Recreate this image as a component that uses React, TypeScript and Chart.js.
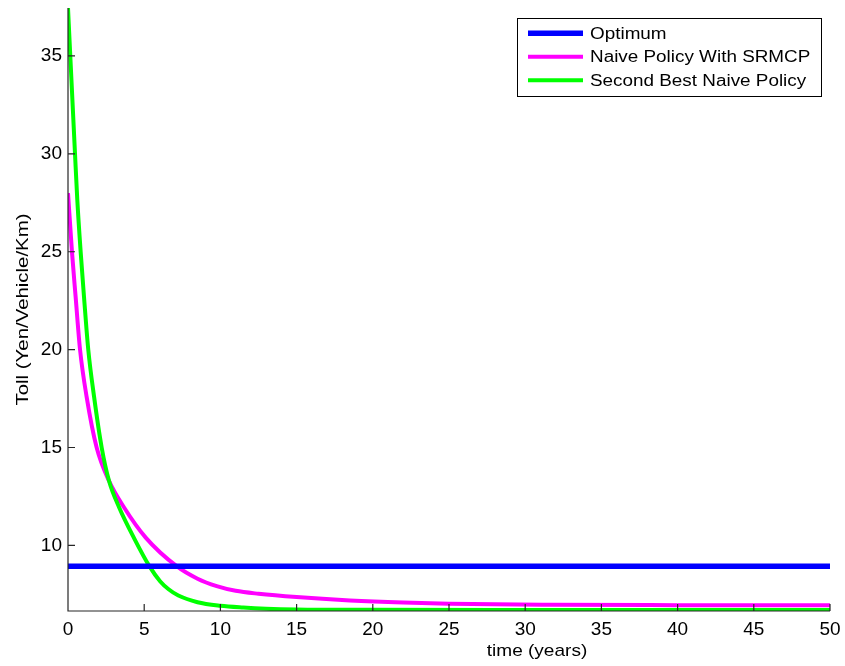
import { useEffect, useRef } from "react";
import { Chart, registerables } from "chart.js";

Chart.register(...registerables);

// ---- data ----
const X_MIN = 0;
const X_MAX = 50;
const Y_MIN = 6.65;
const Y_MAX = 37.45;
const X_TICKS = [0, 5, 10, 15, 20, 25, 30, 35, 40, 45, 50];
const Y_TICKS = [10, 15, 20, 25, 30, 35];

const OPTIMUM_T = [0, 50];
const OPTIMUM_V = [8.94, 8.94];

const NAIVE_T = [0, 0.26, 0.5, 0.79, 1.22, 1.88, 2.69, 3.67, 5.1, 7.13, 8.5, 9.76, 11, 12.5, 15, 18.5, 22, 25, 31.6, 40, 50];
const NAIVE_V = [28.0, 25.0, 22.7, 20.0, 17.6, 15.0, 13.3, 11.95, 10.4, 8.94, 8.3, 7.92, 7.68, 7.53, 7.36, 7.19, 7.08, 7.02, 6.97, 6.95, 6.94];

const SECOND_T = [0, 0.15, 0.46, 0.61, 0.83, 1.05, 1.33, 1.71, 2.21, 2.69, 3.35, 4.35, 5.34, 6.04, 6.6, 7.24, 8.5, 10, 11.5, 13, 15, 20, 30, 40, 50];
const SECOND_V = [37.45, 35.0, 30.0, 27.65, 25.0, 22.7, 20.0, 17.6, 15.0, 13.3, 11.95, 10.35, 8.94, 8.17, 7.76, 7.44, 7.1, 6.92, 6.83, 6.77, 6.73, 6.71, 6.7, 6.7, 6.7];

const LABELS = ["Optimum", "Naive Policy With SRMCP", "Second Best Naive Policy"];
const COLORS = ["#0000ff", "#ff00ff", "#00ff00"];
const WIDTHS = [5.5, 4, 4];
const X_TITLE = "time (years)";
const Y_TITLE = "Toll (Yen/Vehicle/Km)";
const FONT = "'Liberation Sans', Arial, sans-serif";

const toPts = (t: number[], v: number[]) => t.map((x, i) => ({ x, y: v[i] }));

const noPad = (s: any) => {
  s.paddingLeft = 0;
  s.paddingRight = 0;
  s.paddingTop = 0;
  s.paddingBottom = 0;
};

const matlabPlugin = {
  id: "matlabLook",
  afterDatasetsDraw(chart: any) {
    const { ctx, chartArea: a, scales } = chart;
    const xs = scales.x;
    const ys = scales.y;
    ctx.save();
    ctx.strokeStyle = "#262626";
    ctx.lineWidth = 1.2;
    ctx.beginPath();
    ctx.moveTo(a.left, a.top);
    ctx.lineTo(a.left, a.bottom);
    ctx.lineTo(a.right, a.bottom);
    xs.ticks.forEach((t: any) => {
      const px = xs.getPixelForValue(t.value);
      ctx.moveTo(px, a.bottom);
      ctx.lineTo(px, a.bottom - 7);
    });
    ys.ticks.forEach((t: any) => {
      const py = ys.getPixelForValue(t.value);
      ctx.moveTo(a.left, py);
      ctx.lineTo(a.left + 7, py);
    });
    ctx.stroke();
    ctx.restore();
  },
  afterDraw(chart: any) {
    const { ctx, chartArea: a } = chart;
    ctx.save();
    ctx.fillStyle = "#000";
    // x title
    ctx.font = `17px ${FONT}`;
    ctx.textAlign = "center";
    ctx.textBaseline = "middle";
    ctx.save();
    ctx.translate(a.left + 469, a.bottom + 40);
    ctx.scale(1.12, 1);
    ctx.fillText(X_TITLE, 0, 0);
    ctx.restore();
    // y title
    ctx.save();
    ctx.translate(23, (a.top + a.bottom) / 2);
    ctx.rotate(-Math.PI / 2);
    ctx.scale(1.2, 1);
    ctx.fillText(Y_TITLE, 0, 0);
    ctx.restore();

    // legend
    const bw = 304;
    const bh = 78;
    const bx = a.right - 313;
    const by = a.top + 10;
    ctx.fillStyle = "#fff";
    ctx.fillRect(bx, by, bw, bh);
    ctx.strokeStyle = "#000";
    ctx.lineWidth = 1;
    ctx.strokeRect(bx + 0.5, by + 0.5, bw, bh);
    const rows = [15.3, 38.7, 62.3];
    chart.data.datasets.forEach((ds: any, i: number) => {
      const ry = by + rows[i];
      ctx.strokeStyle = ds.borderColor;
      ctx.lineWidth = ds.borderWidth;
      ctx.lineCap = "butt";
      ctx.beginPath();
      ctx.moveTo(bx + 11, ry);
      ctx.lineTo(bx + 66, ry);
      ctx.stroke();
      ctx.fillStyle = "#000";
      ctx.font = `16px ${FONT}`;
      ctx.textAlign = "left";
      ctx.textBaseline = "middle";
      ctx.save();
      ctx.translate(bx + 73, ry + 1);
      ctx.scale(1.18, 1);
      ctx.fillText(ds.label, 0, 0);
      ctx.restore();
    });
    ctx.restore();
  },
};

export default function App() {
  const ref = useRef<HTMLCanvasElement>(null);
  useEffect(() => {
    const chart = new Chart(ref.current as HTMLCanvasElement, {
      type: "line",
      data: {
        datasets: [
          {
            label: LABELS[0],
            data: toPts(OPTIMUM_T, OPTIMUM_V),
            borderColor: COLORS[0],
            backgroundColor: COLORS[0],
            borderWidth: WIDTHS[0],
            pointRadius: 0,
            fill: false,
            order: 0,
          },
          {
            label: LABELS[1],
            data: toPts(NAIVE_T, NAIVE_V),
            borderColor: COLORS[1],
            backgroundColor: COLORS[1],
            borderWidth: WIDTHS[1],
            pointRadius: 0,
            fill: false,
            cubicInterpolationMode: "monotone",
            order: 2,
          },
          {
            label: LABELS[2],
            data: toPts(SECOND_T, SECOND_V),
            borderColor: COLORS[2],
            backgroundColor: COLORS[2],
            borderWidth: WIDTHS[2],
            pointRadius: 0,
            fill: false,
            cubicInterpolationMode: "monotone",
            order: 1,
          },
        ],
      },
      options: {
        animation: false,
        responsive: false,
        devicePixelRatio: 1,
        layout: { padding: { top: 8, right: 15, left: 0, bottom: 0 } },
        plugins: {
          legend: { display: false },
          tooltip: { enabled: false },
          title: { display: false },
        },
        scales: {
          x: {
            type: "linear",
            min: X_MIN,
            max: X_MAX,
            grid: { display: false, drawTicks: false },
            border: { display: false },
            ticks: {
              padding: 7,
              color: "#000",
              maxRotation: 0,
              font: { family: FONT, size: 19 },
            },
            afterBuildTicks: (s: any) => {
              s.ticks = X_TICKS.map((v) => ({ value: v }));
            },
            afterFit: (s: any) => {
              s.height = 55;
              noPad(s);
            },
          },
          y: {
            type: "linear",
            min: Y_MIN,
            max: Y_MAX,
            grid: { display: false, drawTicks: false },
            border: { display: false },
            ticks: {
              padding: 6,
              color: "#000",
              font: { family: FONT, size: 19 },
            },
            afterBuildTicks: (s: any) => {
              s.ticks = Y_TICKS.map((v) => ({ value: v }));
            },
            afterFit: (s: any) => {
              s.width = 68;
              noPad(s);
            },
          },
        },
      },
      plugins: [matlabPlugin],
    } as any);
    return () => chart.destroy();
  }, []);
  return (
    <div style={{ position: "fixed", left: 0, top: 0, width: 845, height: 666, background: "#fff" }}>
      <canvas ref={ref} width={845} height={666} style={{ display: "block" }} />
    </div>
  );
}
